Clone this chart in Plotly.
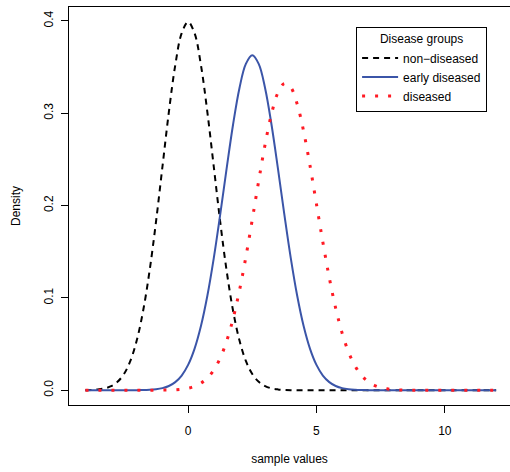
import plotly.graph_objects as go

# sample grid (x values read along the axis)
x_values = [-4.0, -3.75, -3.5, -3.25, -3.0, -2.75, -2.5, -2.25, -2.0, -1.75, -1.5, -1.25,
            -1.0, -0.75, -0.5, -0.25, 0.0, 0.25, 0.5, 0.75, 1.0, 1.25, 1.5, 1.75,
            2.0, 2.25, 2.5, 2.75, 3.0, 3.25, 3.5, 3.75, 4.0, 4.25, 4.5, 4.75,
            5.0, 5.25, 5.5, 5.75, 6.0, 6.25, 6.5, 6.75, 7.0, 7.25, 7.5, 7.75,
            8.0, 8.25, 8.5, 8.75, 9.0, 9.25, 9.5, 9.75, 10.0, 10.25, 10.5, 10.75,
            11.0, 11.25, 11.5, 11.75, 12.0]

non_diseased = [0.0001, 0.0004, 0.0009, 0.0020, 0.0044, 0.0091, 0.0175, 0.0317, 0.0540, 0.0863,
                0.1295, 0.1826, 0.2420, 0.3011, 0.3521, 0.3867, 0.3989, 0.3867, 0.3521, 0.3011,
                0.2420, 0.1826, 0.1295, 0.0863, 0.0540, 0.0317, 0.0175, 0.0091, 0.0044, 0.0020,
                0.0009, 0.0004, 0.0001, 0, 0, 0, 0, 0, 0, 0,
                0, 0, 0, 0, 0, 0, 0, 0, 0, 0,
                0, 0, 0, 0, 0, 0, 0, 0, 0, 0,
                0, 0, 0, 0, 0]

early_diseased = [0, 0, 0, 0, 0, 0, 0, 0, 0.0001, 0.0002,
                  0.0005, 0.0011, 0.0023, 0.0046, 0.0088, 0.0159, 0.0274, 0.0448, 0.0695, 0.1023,
                  0.1431, 0.1902, 0.2399, 0.2875, 0.3271, 0.3534, 0.3627, 0.3534, 0.3271, 0.2875,
                  0.2399, 0.1902, 0.1431, 0.1023, 0.0695, 0.0448, 0.0274, 0.0159, 0.0088, 0.0046,
                  0.0023, 0.0011, 0.0005, 0.0002, 0.0001, 0, 0, 0, 0, 0,
                  0, 0, 0, 0, 0, 0, 0, 0, 0, 0,
                  0, 0, 0, 0, 0]

diseased = [0, 0, 0, 0, 0, 0, 0, 0, 0, 0,
            0, 0, 0.0001, 0.0002, 0.0005, 0.0011, 0.0022, 0.0042, 0.0076, 0.0132,
            0.0218, 0.0348, 0.0530, 0.0773, 0.1079, 0.1443, 0.1849, 0.2267, 0.2662, 0.2993,
            0.3222, 0.3321, 0.3278, 0.3098, 0.2804, 0.2430, 0.2016, 0.1602, 0.1219, 0.0888,
            0.0619, 0.0413, 0.0265, 0.0162, 0.0095, 0.0053, 0.0029, 0.0015, 0.0007, 0.0003,
            0.0001, 0, 0, 0, 0, 0, 0, 0, 0, 0,
            0, 0, 0, 0, 0]

series_names = ["non\u2212diseased", "early diseased", "diseased"]
x_ticks = [0, 5, 10]
y_ticks = [0.0, 0.1, 0.2, 0.3, 0.4]
y_tick_labels = ["0.0", "0.1", "0.2", "0.3", "0.4"]

FONT = "Liberation Sans, Arial, sans-serif"

fig = go.Figure()
fig.add_trace(go.Scatter(x=x_values, y=non_diseased, mode="lines", name=series_names[0],
                         line=dict(color="black", width=2, dash="6px,5px", shape="spline")))
fig.add_trace(go.Scatter(x=x_values, y=early_diseased, mode="lines", name=series_names[1],
                         line=dict(color="#3B55A8", width=2, shape="spline")))
fig.add_trace(go.Scatter(x=x_values, y=diseased, mode="lines", name=series_names[2],
                         line=dict(color="#FF1A24", width=3, dash="3px,10px", shape="spline")))

fig.update_layout(
    width=510, height=472,
    margin=dict(l=69, r=0, t=7, b=67),
    paper_bgcolor="white", plot_bgcolor="white",
    font=dict(family=FONT, size=12, color="black"),
    showlegend=True,
    legend=dict(
        x=0.651, y=0.95, xanchor="left", yanchor="top",
        bordercolor="black", borderwidth=1, bgcolor="white",
        font=dict(size=12, color="black"),
        title=dict(text="Disease groups", side="top center", font=dict(size=12)),
        itemwidth=36, tracegroupgap=0, entrywidth=88,
    ),
    xaxis=dict(
        range=[-4.64, 12.54], tickvals=x_ticks, ticks="outside", ticklen=7,
        tickcolor="black", tickwidth=1, showgrid=False, zeroline=False,
        showline=True, linecolor="black", linewidth=1, mirror=True,
        ticklabelstandoff=8,
        title=dict(text="sample values", standoff=17, font=dict(size=12)),
        tickfont=dict(size=12),
    ),
    yaxis=dict(
        range=[-0.016, 0.415], tickvals=y_ticks, ticktext=y_tick_labels,
        tickangle=-90, ticks="outside", ticklen=7,
        tickcolor="black", tickwidth=1, showgrid=False, zeroline=False,
        showline=True, linecolor="black", linewidth=1, mirror=False,
        ticklabelstandoff=3,
        title=dict(text="Density", standoff=19, font=dict(size=12)),
        tickfont=dict(size=12),
    ),
)

fig.write_html(
    "out.html",
    config={"displayModeBar": False},
    post_script="document.body.style.margin='0';document.body.style.overflow='hidden';",
)
